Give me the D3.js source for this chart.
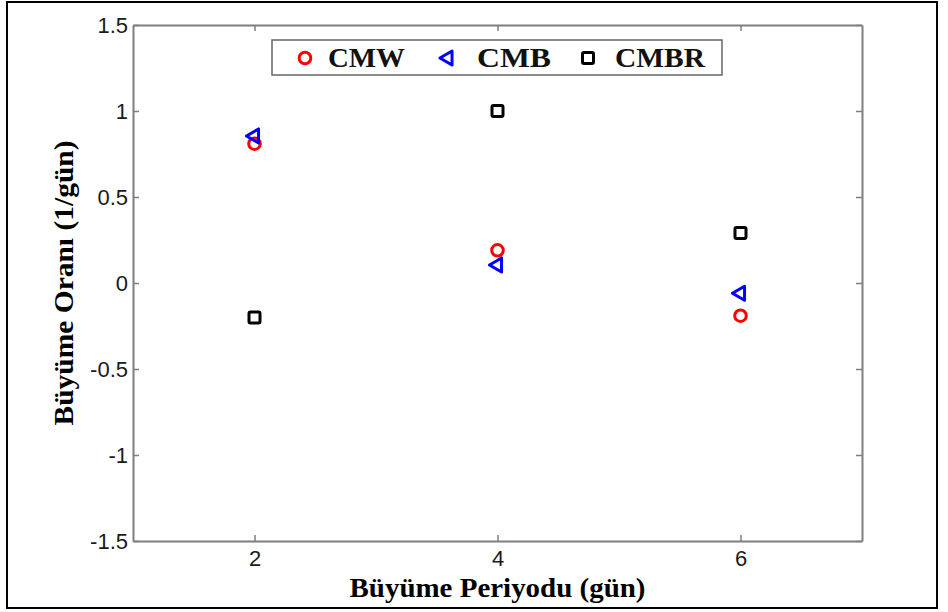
<!DOCTYPE html>
<html>
<head>
<meta charset="utf-8">
<script src="https://cdn.jsdelivr.net/npm/d3@7"></script>
<style>
  body { margin: 0; background: #fff; }
  svg { display: block; }
</style>
</head>
<body>
<svg id="chart"></svg>
<script>
var periods = [2, 4, 6];
var cmw = [0.81, 0.19, -0.19];
var cmb = [0.855, 0.105, -0.06];
var cmbr = [-0.20, 1.0, 0.29];
var xTicks = [2, 4, 6];
var yTicks = [-1.5, -1, -0.5, 0, 0.5, 1, 1.5];

var width = 948, height = 612;
var margin = {left: 133, right: 86, top: 25, bottom: 71};

var svg = d3.select("#chart")
    .attr("width", width)
    .attr("height", height);

// outer frame
svg.append("rect")
    .attr("x", 7).attr("y", 2)
    .attr("width", 930).attr("height", 606)
    .attr("fill", "none")
    .attr("stroke", "#000")
    .attr("stroke-width", 2);

var x = d3.scaleLinear().domain([1, 7]).range([margin.left, width - margin.right]);
var y = d3.scaleLinear().domain([-1.5, 1.5]).range([height - margin.bottom, margin.top]);

var axisColor = "#7f7f7f";
var plain = function(d) { return String(d); };

// axes with inward ticks
var xAxis = svg.append("g")
    .attr("transform", "translate(0," + y(-1.5) + ")")
    .call(d3.axisBottom(x).tickValues(xTicks).tickSizeInner(-6).tickSizeOuter(0).tickPadding(9).tickFormat(plain));
var xTop = svg.append("g")
    .attr("transform", "translate(0," + y(1.5) + ")")
    .call(d3.axisTop(x).tickValues(xTicks).tickSizeInner(-6).tickSizeOuter(0).tickFormat(""));
var yAxis = svg.append("g")
    .attr("transform", "translate(" + x(1) + ",0)")
    .call(d3.axisLeft(y).tickValues(yTicks).tickSizeInner(-6).tickSizeOuter(0).tickPadding(5).tickFormat(plain));
var yRight = svg.append("g")
    .attr("transform", "translate(" + x(7) + ",0)")
    .call(d3.axisRight(y).tickValues(yTicks).tickSizeInner(-6).tickSizeOuter(0).tickFormat(""));

[xAxis, xTop, yAxis, yRight].forEach(function(g) {
    g.select(".domain").attr("stroke", axisColor).attr("stroke-width", 2);
    g.selectAll(".tick line").attr("stroke", axisColor).attr("stroke-width", 1.5);
    g.selectAll("text")
        .attr("fill", "#1a1a1a")
        .style("font-family", "'Liberation Sans', Arial, sans-serif")
        .style("font-size", "22px");
});

// axis titles
var titleFont = "'Liberation Serif', 'Times New Roman', serif";
svg.append("text")
    .attr("x", (x(1) + x(7)) / 2)
    .attr("y", 597)
    .attr("text-anchor", "middle")
    .style("font-family", titleFont)
    .style("font-weight", "bold")
    .style("font-size", "27px")
    .attr("textLength", 296)
    .attr("lengthAdjust", "spacingAndGlyphs")
    .text("Büyüme Periyodu (gün)");

svg.append("text")
    .attr("transform", "translate(73," + y(0) + ") rotate(-90)")
    .attr("text-anchor", "middle")
    .style("font-family", titleFont)
    .style("font-weight", "bold")
    .style("font-size", "28px")
    .attr("textLength", 285)
    .attr("lengthAdjust", "spacingAndGlyphs")
    .text("Büyüme Oranı (1/gün)");

// markers
var tri = d3.symbol().type(d3.symbolTriangle).size(85);
var series = [
    {name: "CMW", values: cmw, color: "#ff0000", shape: "circle"},
    {name: "CMB", values: cmb, color: "#0000ff", shape: "triangle"},
    {name: "CMBR", values: cmbr, color: "#000000", shape: "square"}
];

function drawMarker(g, shape, color) {
    if (shape == "circle") {
        g.append("circle").attr("r", 5.8)
            .attr("fill", "none").attr("stroke", color).attr("stroke-width", 3);
    } else if (shape == "triangle") {
        g.append("path").attr("d", tri).attr("transform", "rotate(-90)")
            .attr("fill", "none").attr("stroke", color).attr("stroke-width", 3)
            .attr("stroke-linejoin", "round");
    } else {
        g.append("rect").attr("x", -5.5).attr("y", -5.5).attr("width", 11).attr("height", 11)
            .attr("rx", 1.5)
            .attr("fill", "none").attr("stroke", color).attr("stroke-width", 3);
    }
}

series.forEach(function(s) {
    s.values.forEach(function(v, i) {
        var g = svg.append("g")
            .attr("transform", "translate(" + x(periods[i]) + "," + y(v) + ")");
        drawMarker(g, s.shape, s.color);
    });
});

// legend
var legend = svg.append("g").attr("transform", "translate(272,40)");
legend.append("rect")
    .attr("width", 450).attr("height", 35)
    .attr("fill", "#fff")
    .attr("stroke", "#666")
    .attr("stroke-width", 1.5);
var legendPos = [{m: 33, t: 56, w: 77}, {m: 176, t: 205, w: 74}, {m: 316, t: 343, w: 90}];
series.forEach(function(s, i) {
    var g = legend.append("g").attr("transform", "translate(" + legendPos[i].m + ",18)");
    drawMarker(g, s.shape, s.color);
    legend.append("text")
        .attr("x", legendPos[i].t)
        .attr("y", 27)
        .style("font-family", titleFont)
        .style("font-weight", "bold")
        .style("font-size", "27px")
        .attr("textLength", legendPos[i].w)
        .attr("lengthAdjust", "spacingAndGlyphs")
        .attr("fill", "#111")
        .text(s.name);
});
</script>
</body>
</html>
